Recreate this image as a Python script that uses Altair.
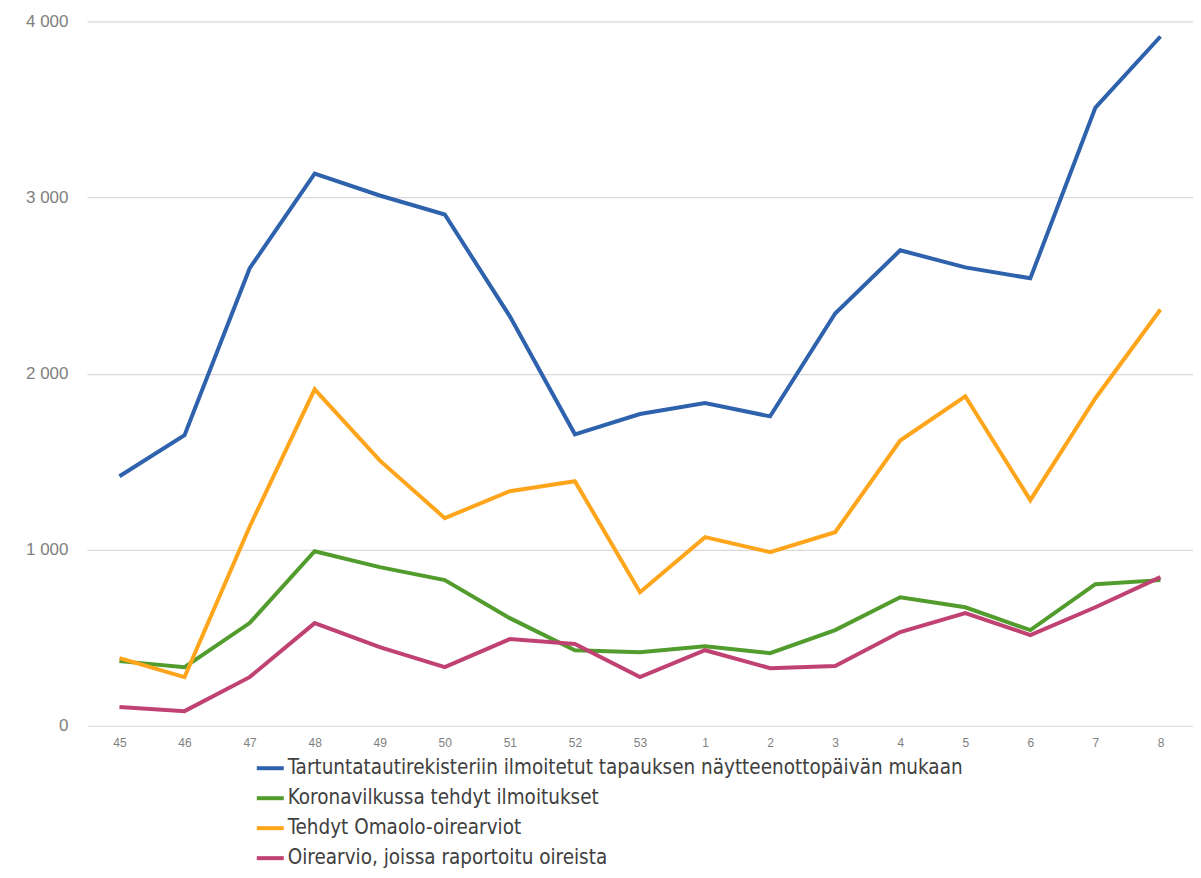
import altair as alt
import pandas as pd

weeks = ["45", "46", "47", "48", "49", "50", "51", "52", "53",
         "1", "2", "3", "4", "5", "6", "7", "8"]

series_names = [
    "Tartuntatautirekisteriin ilmoitetut tapauksen näytteenottopäivän mukaan",
    "Koronavilkussa tehdyt ilmoitukset",
    "Tehdyt Omaolo-oirearviot",
    "Oirearvio, joissa raportoitu oireista",
]

registry = [1417, 1650, 2597, 3136, 3011, 2903, 2325, 1655, 1770,
            1832, 1757, 2341, 2700, 2603, 2541, 3510, 3914]
koronavilkku = [367, 333, 583, 991, 901, 827, 611, 429, 418,
                452, 412, 543, 730, 673, 543, 804, 827]
omaolo = [384, 276, 1130, 1910, 1507, 1179, 1332, 1389, 758,
          1071, 986, 1099, 1620, 1871, 1281, 1860, 2364]
symptoms = [106, 83, 276, 583, 447, 333, 492, 464, 276,
            429, 327, 339, 532, 640, 515, 673, 844]

colors = ["#2F62AD", "#519C2C", "#FFA51C", "#C04272"]

rows = []
for name, vals in zip(series_names, [registry, koronavilkku, omaolo, symptoms]):
    for w, v in zip(weeks, vals):
        rows.append({"Viikko": w, "Arvo": v, "Sarja": name})
df = pd.DataFrame(rows)

chart = alt.Chart(df).mark_line(strokeWidth=4, strokeJoin="miter").encode(
    x=alt.X("Viikko:O", sort=weeks, title=None,
            scale=alt.Scale(type="point", padding=0.5),
            axis=alt.Axis(labelAngle=0, labelFontSize=12, labelColor="#7f7f7f",
                          labelFont="Liberation Sans", domain=False, ticks=False,
                          labelPadding=12, grid=False)),
    y=alt.Y("Arvo:Q", title=None,
            scale=alt.Scale(domain=[0, 4000], nice=False),
            axis=alt.Axis(values=[0, 1000, 2000, 3000, 4000],
                          labelExpr="replace(format(datum.value, ','), ',', ' ')",
                          labelFontSize=17, labelColor="#7f7f7f",
                          labelFont="Liberation Sans", domain=False, ticks=False,
                          labelPadding=19, gridColor="#d9d9d9", gridWidth=1.2)),
    color=alt.Color("Sarja:N", sort=series_names,
                    scale=alt.Scale(domain=series_names, range=colors),
                    legend=alt.Legend(title=None, orient="none", legendX=168, legendY=732,
                                      direction="vertical", symbolType="stroke",
                                      symbolSize=729, symbolStrokeWidth=4,
                                      labelFontSize=20.5,
                                      labelFont="DejaVu Sans Condensed, Liberation Sans",
                                      labelColor="#404040", rowPadding=4,
                                      labelLimit=900, symbolOffset=0, labelOffset=2)),
).properties(
    width=1107, height=705,
    autosize=alt.AutoSizeParams(type="none"),
    padding={"left": 79, "top": 13, "right": 0, "bottom": 144},
).configure_view(stroke=None)

chart.save("out.html", embed_options={"renderer": "svg", "actions": False})
